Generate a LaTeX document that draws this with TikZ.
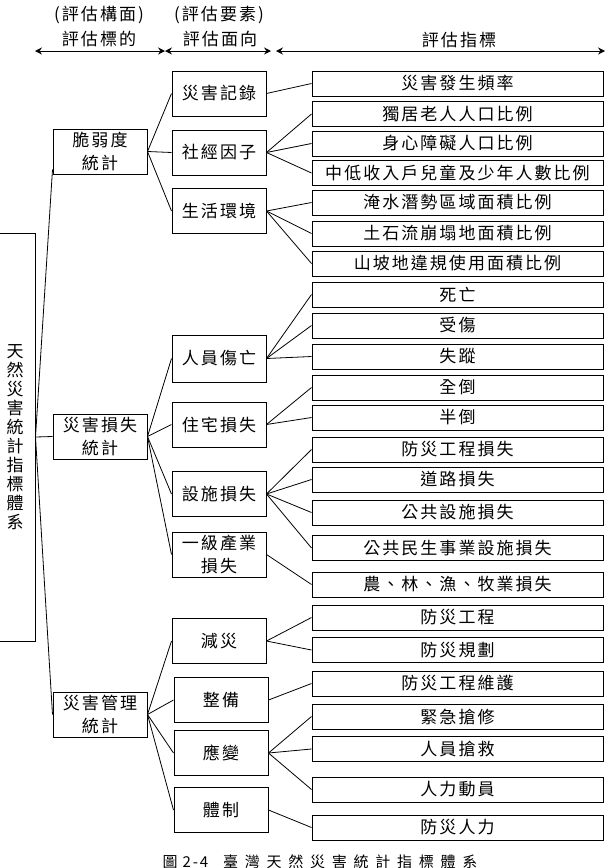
\documentclass[tikz,border=0pt]{standalone}
\usepackage{fontspec}
\setmainfont{Noto Sans CJK TC}[LetterSpace=12]
\newfontfamily\capfont{Noto Sans CJK TC}[LetterSpace=45]
\usetikzlibrary{arrows.meta, positioning}

\begin{document}
\begin{tikzpicture}[
      x=1pt, y=-1pt,
      every node/.style={font=\fontsize{17}{23}\selectfont, inner sep=0pt},
      rootbox/.style={draw, line width=1pt, minimum width=40pt, minimum height=408pt, align=center, font=\fontsize{17}{19}\selectfont},
      aspect/.style={draw, line width=1pt, minimum width=94pt, minimum height=45pt, align=center},
      indicator/.style={draw, line width=1pt, minimum width=291pt, minimum height=25pt},
      link/.style={line width=0.8pt},
      rangearrow/.style={line width=0.8pt, {Stealth[length=7pt,width=7pt,inset=2.5pt]}-{Stealth[length=7pt,width=7pt,inset=2.5pt]}}
    ]
      \useasboundingbox (0,0) rectangle (607,868);

      % header
      \node (hA) at (99,15) {(評估構面)};
      \node (hB) at (219,15) {(評估要素)};
      \node (tA) at (99,39) {評估標的};
      \node (tB) at (220,39) {評估面向};
      \node (tC) at (459,40) {評估指標};
      \coordinate (a0) at (35,51);
      \coordinate (a1) at (165,51);
      \coordinate (a2) at (271,51);
      \coordinate (a3) at (276,51);
      \coordinate (a4) at (605,51);
      \draw[rangearrow] (a0) -- (a1);
      \draw[rangearrow] (a1) -- (a2);
      \draw[rangearrow] (a3) -- (a4);

      % root and first level
      \node[rootbox] (root) at (15,437) {天\\然\\災\\害\\統\\計\\指\\標\\體\\系};
      \node[aspect] (vul) at (100,151.5) {脆弱度\\統計};
      \node[aspect] (loss) at (100,436.5) {災害損失\\統計};
      \node[aspect] (mgmt) at (100,714.5) {災害管理\\統計};

      % second level
      \node[aspect] (rec) at (219,93.5) {災害記錄};
      \node[aspect] (soc) at (219,152.5) {社經因子};
      \node[aspect] (env) at (219,211) {生活環境};
      \node[aspect, minimum height=47pt] (cas) at (219,358.5) {人員傷亡};
      \node[aspect] (hou) at (219,424.5) {住宅損失};
      \node[aspect] (fac) at (219,494) {設施損失};
      \node[aspect] (agr) at (219,554.5) {一級產業\\損失};
      \node[aspect] (mit) at (219,641) {減災};
      \node[aspect] (pre) at (221,700) {整備};
      \node[aspect] (res) at (221,753) {應變};
      \node[aspect] (sys) at (221,810) {體制};

      % indicators
      \foreach \y/\t [count=\i] in {83.5/災害發生頻率, 114/獨居老人人口比例, 143.5/身心障礙人口比例,
          173/中低收入戶兒童及少年人數比例, 202.5/淹水潛勢區域面積比例, 233.5/土石流崩塌地面積比例,
          263.5/山坡地違規使用面積比例, 294.5/死亡, 325.5/受傷, 356.5/失蹤, 387.5/全倒, 417.5/半倒,
          449.5/防災工程損失, 479.5/道路損失, 512.5/公共設施損失, 548/公共民生事業設施損失,
          584.5/農、林、漁、牧業損失, 617.5/防災工程, 650/防災規劃, 683.5/防災工程維護,
          716.5/緊急搶修, 749/人員搶救, 789.5/人力動員, 827.5/防災人力}
        \node[indicator] (i\i) at (457.5,\y) {\t};

      % connectors
      \draw[link] (root.east) -- ([yshift=5pt]vul.south west);
      \draw[link] (root.east) -- (loss.west);
      \draw[link] (root.east) -- (mgmt.west);
      \foreach \p/\c in {vul/rec, vul/soc, vul/env, loss/cas, loss/hou, loss/fac, loss/agr,
          mgmt/mit, mgmt/pre, mgmt/res, mgmt/sys}
        \draw[link] (\p.east) -- (\c.west);
      \foreach \p/\c in {rec/1, soc/2, soc/3, soc/4, env/5, env/6, env/7, cas/8, cas/9, cas/10,
          hou/11, hou/12, fac/13, fac/14, fac/15, fac/16, agr/17, mit/18, mit/19, pre/20,
          res/21, res/22, res/23, sys/24}
        \draw[link] (\p.east) -- (i\c.west);

      \node[font=\fontsize{15}{16}\selectfont] (cap) at (320,862) {圖 2-4\quad{\capfont 臺灣天然災害統計指標體系}};
    \end{tikzpicture}
\end{document}
